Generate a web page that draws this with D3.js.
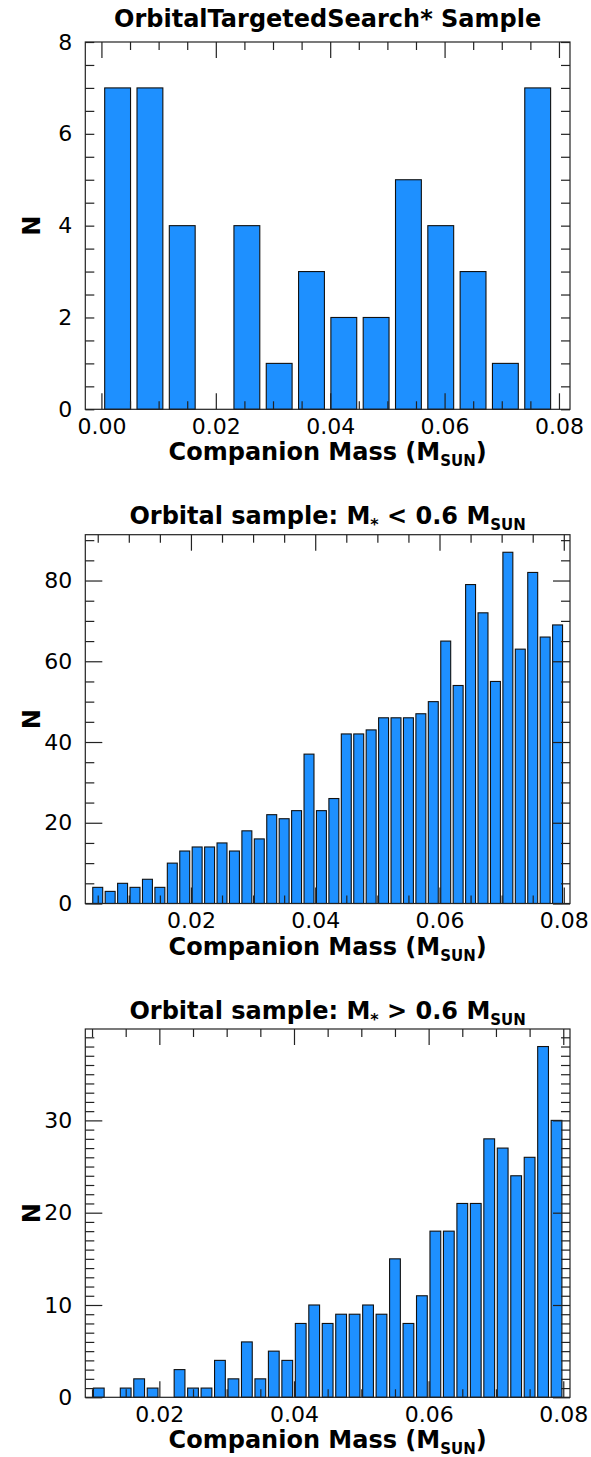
<!DOCTYPE html>
<html>
<head>
<meta charset="utf-8">
<script src="https://cdn.jsdelivr.net/npm/d3@7"></script>
<style>
  body { margin: 0; background: #fff; }
  text { font-family: "DejaVu Sans", sans-serif; }
</style>
</head>
<body>
<div id="container"></div>
<script>
/* CONSTANTS AND GLOBALS */
const width = 591,
  height = 1457,
  tickFont = 22,
  labelFont = 24;

// panel 1: OrbitalTargetedSearch* sample
const tsCenters0 = 0.00283, tsBin = 0.00565;
const tsCounts = [7, 7, 4, 0, 4, 1, 3, 2, 2, 5, 4, 3, 1, 7];

// panel 2: orbital sample, M* < 0.6 Msun
const loCenters0 = 0.005, loBin = 0.002;
const loCounts = [4, 3, 5, 4, 6, 4, 10, 13, 14, 14, 15, 13, 18, 16, 22, 21, 23, 37, 23, 26,
  42, 42, 43, 46, 46, 46, 47, 50, 65, 54, 79, 72, 55, 87, 63, 82, 66, 69];

// panel 3: orbital sample, M* > 0.6 Msun
const hiCenters0 = 0.011, hiBin = 0.002;
const hiCounts = [1, 0, 1, 2, 1, 0, 3, 1, 1, 4, 2, 6, 2, 5, 4, 8, 10, 8, 9, 9,
  10, 9, 15, 8, 11, 18, 18, 21, 21, 28, 27, 24, 26, 38, 30];

const xTickLabels = [0.00, 0.02, 0.04, 0.06, 0.08];

const panels = [
  { top: 42, bottom: 409.3, c0: tsCenters0, bin: tsBin, counts: tsCounts,
    yMax: 8, yMajor: 2, yMinor: 0.5, yLongMajor: false,
    title: [{ t: "OrbitalTargetedSearch* Sample" }], titleY: 27 },
  { top: 534.7, bottom: 903.5, c0: loCenters0, bin: loBin, counts: loCounts,
    yMax: 91.35, yMajor: 20, yMinor: 5, yLongMajor: true,
    title: [{ t: "Orbital sample: M" }, { t: "*", sub: true }, { t: " < 0.6 M" }, { t: "SUN", sub: true }], titleY: 524 },
  { top: 1029, bottom: 1397.3, c0: hiCenters0, bin: hiBin, counts: hiCounts,
    yMax: 39.9, yMajor: 10, yMinor: 1, yLongMajor: true,
    title: [{ t: "Orbital sample: M" }, { t: "*", sub: true }, { t: " > 0.6 M" }, { t: "SUN", sub: true }], titleY: 1019 }
];

const left = 85.3, right = 570;

const svg = d3.select("#container")
  .append("svg")
  .attr("width", width)
  .attr("height", height);

svg.append("rect").attr("width", width).attr("height", height).attr("fill", "#fff");

panels.forEach(drawPanel);

function styleAxis(g) {
  g.select(".domain").remove();
  g.selectAll(".tick line").attr("stroke", "#222").attr("stroke-width", 1.2);
  g.selectAll(".tick text").filter(function () { return this.textContent === ""; }).remove();
  g.selectAll("text")
    .attr("fill", "#000")
    .style("font-family", "DejaVu Sans, sans-serif")
    .style("font-size", tickFont + "px");
}

// bold text with subscripts (M_SUN, M_*)
function addText(g, parts, x, y, anchor) {
  const t = g.append("text")
    .attr("x", x)
    .attr("y", y)
    .attr("text-anchor", anchor)
    .attr("font-weight", "bold")
    .attr("font-size", labelFont);
  let shift = 0;
  parts.forEach(p => {
    const s = p.sub ? 6 : 0;
    t.append("tspan")
      .attr("dy", s - shift)
      .attr("font-size", p.sub ? (p.t === "*" ? 16 : 15) : labelFont)
      .text(p.t);
    shift = s;
  });
  return t;
}

function drawPanel(p) {
  const n = p.counts.length;
  const data = p.counts.map((d, i) => ({ x: p.c0 + i * p.bin, n: d }));
  const lastC = p.c0 + (n - 1) * p.bin;

  const xScale = d3.scaleLinear()
    .domain([p.c0 - p.bin, lastC + p.bin])
    .range([left, right]);
  const yScale = d3.scaleLinear()
    .domain([0, p.yMax])
    .range([p.bottom, p.top]);

  const g = svg.append("g");
  const [x0, x1] = xScale.domain();

  // bars
  const bw = (xScale(p.bin) - xScale(0)) * 0.8;
  g.selectAll("rect.bar")
    .data(data.filter(d => d.n > 0))
    .join("rect")
    .attr("class", "bar")
    .attr("x", d => xScale(d.x) - bw / 2)
    .attr("y", d => yScale(d.n))
    .attr("width", bw)
    .attr("height", d => yScale(0) - yScale(d.n))
    .attr("fill", "#1E90FF")
    .attr("stroke", "#111")
    .attr("stroke-width", 1.1);

  // ticks, all pointing inward
  const xMajor = xTickLabels.filter(v => v >= x0 && v <= x1);
  const xMinor = d3.range(0, 0.0851, 0.005).filter(v => v >= x0 && v <= x1 &&
    !xMajor.some(m => Math.abs(m - v) < 1e-9));
  const yMajorV = d3.range(0, p.yMax + 1e-9, p.yMajor);
  const yMinorV = d3.range(0, p.yMax + 1e-9, p.yMinor).filter(v =>
    !yMajorV.some(m => Math.abs(m - v) < 1e-9));
  const yLong = p.yLongMajor ? 17 : 9;

  g.append("g")
    .attr("transform", `translate(0, ${p.bottom})`)
    .call(d3.axisBottom(xScale).tickValues(xMajor).tickSize(-16).tickPadding(9).tickFormat(d3.format(".2f")))
    .call(styleAxis);
  g.append("g")
    .attr("transform", `translate(0, ${p.bottom})`)
    .call(d3.axisBottom(xScale).tickValues(xMinor).tickSize(-8).tickFormat(""))
    .call(styleAxis);
  g.append("g")
    .attr("transform", `translate(0, ${p.top})`)
    .call(d3.axisTop(xScale).tickValues(xMajor).tickSize(-16).tickFormat(""))
    .call(styleAxis);
  g.append("g")
    .attr("transform", `translate(0, ${p.top})`)
    .call(d3.axisTop(xScale).tickValues(xMinor).tickSize(-8).tickFormat(""))
    .call(styleAxis);

  g.append("g")
    .attr("transform", `translate(${left}, 0)`)
    .call(d3.axisLeft(yScale).tickValues(yMajorV).tickSize(-yLong).tickPadding(13).tickFormat(d3.format("d")))
    .call(styleAxis);
  g.append("g")
    .attr("transform", `translate(${left}, 0)`)
    .call(d3.axisLeft(yScale).tickValues(yMinorV).tickSize(-9).tickFormat(""))
    .call(styleAxis);
  g.append("g")
    .attr("transform", `translate(${right}, 0)`)
    .call(d3.axisRight(yScale).tickValues(yMajorV).tickSize(-yLong).tickFormat(""))
    .call(styleAxis);
  g.append("g")
    .attr("transform", `translate(${right}, 0)`)
    .call(d3.axisRight(yScale).tickValues(yMinorV).tickSize(-9).tickFormat(""))
    .call(styleAxis);

  // frame
  g.append("rect")
    .attr("x", left)
    .attr("y", p.top)
    .attr("width", right - left)
    .attr("height", p.bottom - p.top)
    .attr("fill", "none")
    .attr("stroke", "#222")
    .attr("stroke-width", 1.2);

  // title and axis labels
  addText(g, p.title, (left + right) / 2, p.titleY, "middle");
  addText(g, [{ t: "Companion Mass (M" }, { t: "SUN", sub: true }, { t: ")" }],
    (left + right) / 2, p.bottom + 51, "middle");
  g.append("text")
    .attr("transform", `translate(40, ${(p.top + p.bottom) / 2}) rotate(-90)`)
    .attr("text-anchor", "middle")
    .attr("font-weight", "bold")
    .attr("font-size", labelFont)
    .text("N");
}
</script>
</body>
</html>
